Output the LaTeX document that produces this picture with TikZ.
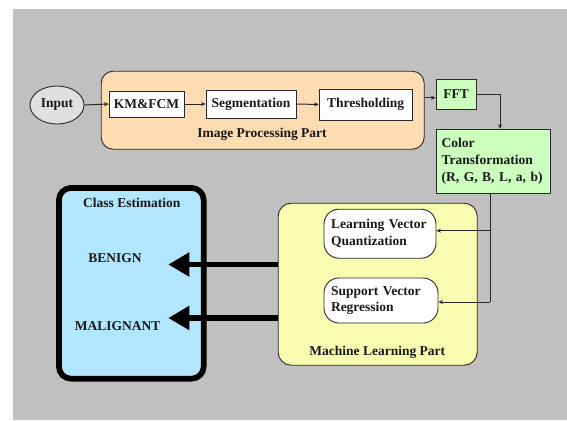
\documentclass[tikz,border=0pt]{standalone}
\usepackage{fontspec}
\setmainfont{Liberation Serif}
\usetikzlibrary{arrows.meta,shapes.geometric}
\definecolor{bggray}{RGB}{192,192,192}
\definecolor{peach}{RGB}{252,220,176}
\definecolor{lgreen}{RGB}{204,255,190}
\definecolor{lyellow}{RGB}{247,252,176}
\definecolor{lblue}{RGB}{178,230,252}
\definecolor{egray}{RGB}{224,224,224}
\definecolor{linec}{RGB}{40,40,40}
\definecolor{txt}{RGB}{25,25,25}
\begin{document}
\begin{tikzpicture}[x=1pt,y=-1pt,
  font=\fontsize{13.5}{16.8}\selectfont\bfseries,
  box/.style={draw=linec, line width=0.9pt, inner sep=0pt, text=txt},
  whitebox/.style={box, fill=white},
  greenbox/.style={box, fill=lgreen},
  lbl/.style={inner sep=0pt, text=txt},
  arr/.style={draw=linec, line width=1pt, -{Stealth[length=4.5pt,width=4pt]}},
  plain/.style={draw=linec, line width=1pt},
  bigarr/.style={draw=black, line width=5.7pt, -{Triangle[length=21pt,width=23pt]}}
]
\useasboundingbox (0,0) rectangle (567,420);
\fill[bggray] (13,9) rectangle (567,420);

% Image processing part
\node[box, fill=peach, rounded corners=12pt, minimum width=323pt, minimum height=78pt] (ipp) at (262.7,110.2) {};
\node[lbl] (ipplbl) at (262,134.5) {Image Processing Part};
\node[box, ellipse, fill=egray, minimum width=54pt, minimum height=38pt] (input) at (57,105) {Input};
\node[whitebox, minimum width=75pt, minimum height=26pt] (km) at (146.5,104) {KM\&FCM};
\node[whitebox, minimum width=90pt, minimum height=28pt] (seg) at (251,104) {Segmentation};
\node[whitebox, minimum width=93pt, minimum height=31pt] (thr) at (365.7,104.5) {Thresholding};

\node[greenbox, minimum width=40pt, minimum height=30pt] (fft) at (456,94.3) {FFT};
\node[greenbox, text width=102.6pt, inner xsep=5.7pt, align=left, minimum height=64pt] (color) at (493,161.2) {Color\\Transformation\\(R, G, B, L, a, b)};

% Machine learning part
\node[box, fill=lyellow, rounded corners=13pt, minimum width=199pt, minimum height=162pt] (ml) at (377.7,284.2) {};
\node[lbl] (mllbl) at (377.3,352.3) {Machine Learning Part};
\node[whitebox, rounded corners=15pt, text width=98pt, inner xsep=7pt, align=left, minimum height=49pt] (lvq) at (380,233.7) {Learning Vector\\Quantization};
\node[whitebox, rounded corners=15pt, text width=100pt, inner xsep=7pt, align=left, minimum height=45pt] (svr) at (381,300.5) {Support Vector\\Regression};

% Class estimation
\node[draw=black, line width=5.7pt, fill=lblue, rounded corners=12pt, inner sep=0pt, minimum width=144.7pt, minimum height=190.7pt] (cls) at (131.3,283.3) {};
\node[lbl] (clslbl) at (131.7,203.3) {Class Estimation};
\node[lbl] (benign) at (115,258.3) {BENIGN};
\node[lbl] (malig) at (117.7,325.7) {MALIGNANT};

% connectors
\draw[arr] (input.east) -- (km.west);
\draw[arr] (km.east) -- (seg.west);
\draw[arr] (seg.east) -- (thr.west);
\coordinate (fftin) at ([yshift=-3.5pt]fft.west);
\draw[arr] (ipp.east |- fftin) -- (fftin);
\coordinate (cin) at ([xshift=7pt]color.north);
\draw[arr] (fft.east) -| (cin);
\coordinate (cout) at ([xshift=-3pt]color.south);
\coordinate (lvqin) at ([yshift=3pt]lvq.east);
\coordinate (svrin) at ([yshift=-1.5pt]svr.east);
\draw[plain] (cout) |- (svrin -| cout);
\draw[arr] (lvqin -| cout) -- (lvqin);
\draw[arr] (svrin -| cout) -- (svrin);

\coordinate (bt) at (168.3,264.5);
\coordinate (mt) at (168.3,318);
\draw[bigarr] (ml.west |- bt) -- (bt);
\draw[bigarr] (ml.west |- mt) -- (mt);
\end{tikzpicture}
\end{document}
